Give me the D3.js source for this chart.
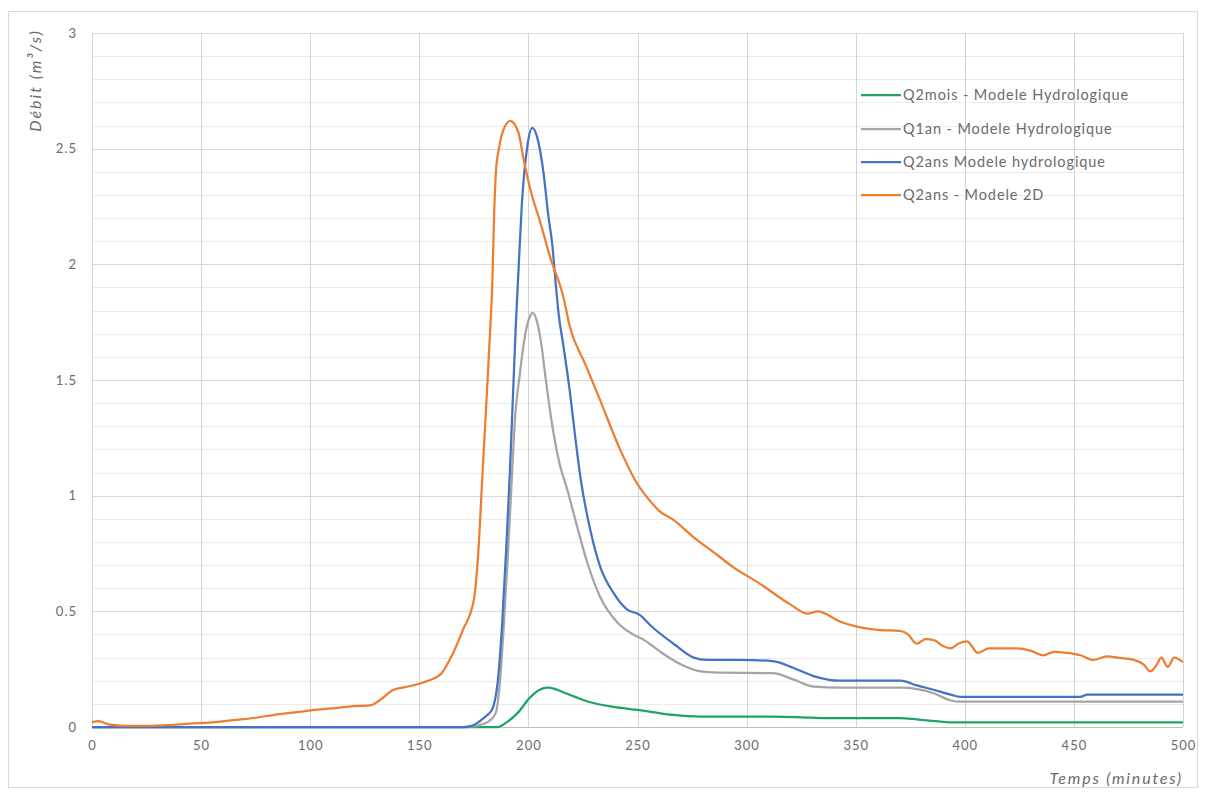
<!DOCTYPE html>
<html>
<head>
<meta charset="utf-8">
<script src="https://cdn.jsdelivr.net/npm/d3@7"></script>
<style>
  html, body { margin: 0; padding: 0; background: #fff; }
  svg { display: block; }
  text { font-family: Lato, "Open Sans", sans-serif; fill: #6b6b6b; }
</style>
</head>
<body>
<svg id="chart" width="1206" height="792"></svg>
<script>
// ---- Data ----
const xTicks = [0, 50, 100, 150, 200, 250, 300, 350, 400, 450, 500];
const yTicks = [0, 0.5, 1, 1.5, 2, 2.5, 3];
const yTickLabels = ["0", "0.5", "1", "1.5", "2", "2.5", "3"];
const seriesNames = [
  "Q2mois - Modele Hydrologique",
  "Q1an - Modele Hydrologique",
  "Q2ans Modele hydrologique",
  "Q2ans - Modele 2D"
];
const seriesColors = ["#21a366", "#a5a5a5", "#4472c4", "#ed7d31"];

const greenT = [0,186,190,195,201,205,208.7,212,216,222,228,239,251,258,266.5,279,312,330,343,370.6,376,381,387,393,500];
const greenQ = [0,0,0.02,0.06,0.13,0.16,0.17,0.165,0.15,0.128,0.108,0.087,0.073,0.063,0.052,0.045,0.045,0.04,0.038,0.038,0.035,0.03,0.025,0.02,0.02];

const grayT = [0,172,180,182.6,185,187,188.6,190.4,192,194,196,198.6,200.5,202,204,206,208,211,214,218,222.5,227,233,241,248,253,260.5,270,279,286.7,312,321.6,330.7,343,370.6,386,393.5,396.6,500];
const grayQ = [0,0,0.015,0.03,0.06,0.2,0.42,0.71,1.0,1.35,1.52,1.7,1.77,1.79,1.75,1.65,1.5,1.3,1.15,1.02,0.86,0.71,0.56,0.45,0.40,0.376,0.325,0.27,0.24,0.235,0.233,0.205,0.175,0.17,0.17,0.145,0.115,0.11,0.11];

const blueT = [0,170,174,177,179,181,183,184,186,188,190,191.5,193,194.3,195.6,197,199.5,201.8,204,207,209,211,212.4,213.8,216,219,221.5,224,228.4,233,239,245,251,257,266.5,275.7,282,297,312,321.6,330.7,343,360,370.6,378,386,393.5,398,453,456,500];
const blueQ = [0,0,0.005,0.02,0.035,0.05,0.07,0.09,0.2,0.45,0.8,1.1,1.45,1.75,2.0,2.26,2.51,2.59,2.55,2.39,2.22,2.08,1.93,1.79,1.65,1.45,1.25,1.07,0.85,0.69,0.58,0.51,0.485,0.43,0.36,0.30,0.29,0.29,0.285,0.255,0.22,0.20,0.20,0.20,0.18,0.16,0.14,0.13,0.13,0.14,0.14];

const orangeT = [0,3,8,15,25,35,45,55,65,75,85,95,101,110,120,128,132,138,145,154,160,165,170,175,177,179,181,182.5,183.5,184.3,185.2,186.5,188.5,191.7,195.4,197.7,201,205.5,210,216,219,226,233,242,250,253,260.5,266.5,275.7,285,294,306,320,328,332.5,343,350,360,370.6,374,378,382,386,390,393.5,397,401,406,411,416.5,424,430,436,441,447,453,459,465,470,477.5,482,485,488,490,493,496,500];
const orangeQ = [0.02,0.025,0.01,0.005,0.005,0.008,0.015,0.02,0.03,0.04,0.055,0.065,0.073,0.08,0.09,0.095,0.117,0.16,0.175,0.2,0.23,0.31,0.42,0.55,0.75,1.1,1.45,1.72,1.93,2.22,2.41,2.5,2.58,2.62,2.57,2.46,2.32,2.18,2.03,1.86,1.73,1.57,1.41,1.2,1.05,1.01,0.93,0.895,0.82,0.755,0.69,0.62,0.53,0.49,0.5,0.455,0.435,0.42,0.415,0.40,0.36,0.38,0.375,0.35,0.34,0.36,0.37,0.32,0.34,0.34,0.34,0.33,0.31,0.325,0.32,0.31,0.29,0.305,0.30,0.29,0.27,0.24,0.27,0.30,0.26,0.30,0.28];

const seriesT = [greenT, grayT, blueT, orangeT];
const seriesQ = [greenQ, grayQ, blueQ, orangeQ];

// ---- Layout ----
const svg = d3.select("#chart");
const plot = { left: 92, right: 1183, top: 33, bottom: 727 };

const x = d3.scaleLinear().domain([0, 500]).range([plot.left, plot.right]);
const y = d3.scaleLinear().domain([0, 3]).range([plot.bottom, plot.top]);

// outer border
svg.append("rect")
  .attr("x", 8.5).attr("y", 11.5).attr("width", 1189).attr("height", 776)
  .attr("fill", "none").attr("stroke", "#d9d9d9");

// minor horizontal gridlines every 0.1
const minorY = d3.range(0, 31).map(i => i / 10).filter(v => Math.round(v * 10) % 5 !== 0);
svg.append("g").selectAll("line").data(minorY).join("line")
  .attr("x1", plot.left).attr("x2", plot.right)
  .attr("y1", d => Math.round(y(d)) + 0.5).attr("y2", d => Math.round(y(d)) + 0.5)
  .attr("stroke", "#ebebeb").attr("stroke-width", 1);

// major horizontal gridlines
svg.append("g").selectAll("line").data(yTicks.slice(1)).join("line")
  .attr("x1", plot.left).attr("x2", plot.right)
  .attr("y1", d => Math.round(y(d)) + 0.5).attr("y2", d => Math.round(y(d)) + 0.5)
  .attr("stroke", "#d9d9d9").attr("stroke-width", 1);

// vertical gridlines
svg.append("g").selectAll("line").data(xTicks).join("line")
  .attr("x1", d => Math.round(x(d)) + 0.5).attr("x2", d => Math.round(x(d)) + 0.5)
  .attr("y1", plot.top).attr("y2", plot.bottom)
  .attr("stroke", "#d4d4d4").attr("stroke-width", 1);

// x axis line
svg.append("line")
  .attr("x1", plot.left).attr("x2", plot.right)
  .attr("y1", plot.bottom + 0.5).attr("y2", plot.bottom + 0.5)
  .attr("stroke", "#bfbfbf");

const tickStyle = sel => sel.style("font-size", "13px").style("letter-spacing", "1px")
  .style("fill", "#6b6b6b").style("font-family", "Lato, 'Open Sans', sans-serif");

// x tick labels
const xAxis = d3.axisBottom(x).tickValues(xTicks).tickSize(0).tickPadding(14).tickFormat(d3.format("d"));
const gx = svg.append("g").attr("transform", `translate(0,${plot.bottom})`).call(xAxis);
gx.select(".domain").remove();
gx.selectAll("text").call(tickStyle);

// y tick labels
const yAxis = d3.axisLeft(y).tickValues(yTicks).tickSize(0).tickPadding(15)
  .tickFormat((d, i) => yTickLabels[i]);
const gy = svg.append("g").attr("transform", `translate(${plot.left},0)`).call(yAxis);
gy.select(".domain").remove();
gy.selectAll("text").call(tickStyle);

// axis titles
svg.append("text")
  .attr("transform", `translate(41,${plot.top - 4}) rotate(-90)`)
  .attr("text-anchor", "end")
  .style("font-size", "16px").style("font-style", "italic").style("letter-spacing", "2px")
  .text("Débit (m³/s)");

svg.append("text")
  .attr("x", plot.right).attr("y", 784)
  .attr("text-anchor", "end")
  .style("font-size", "16px").style("font-style", "italic").style("letter-spacing", "1.8px")
  .text("Temps (minutes)");

// lines
const line = d3.line()
  .x(d => x(d[0])).y(d => y(d[1]))
  .curve(d3.curveMonotoneX);

seriesT.forEach((ts, i) => {
  const pts = ts.map((t, j) => [t, seriesQ[i][j]]);
  svg.append("path")
    .datum(pts)
    .attr("d", line)
    .attr("fill", "none")
    .attr("stroke", seriesColors[i])
    .attr("stroke-width", 2.25)
    .attr("stroke-linejoin", "round");
});

// legend
const legendY = [95, 129, 162, 195];
const legend = svg.append("g");
seriesNames.forEach((name, i) => {
  const ly = legendY[i];
  legend.append("line")
    .attr("x1", 861).attr("x2", 901).attr("y1", ly).attr("y2", ly)
    .attr("stroke", seriesColors[i]).attr("stroke-width", 2.25);
  legend.append("text")
    .attr("x", 903).attr("y", ly + 5)
    .style("font-size", "14.5px").style("letter-spacing", "0.9px")
    .text(name);
});
</script>
</body>
</html>
